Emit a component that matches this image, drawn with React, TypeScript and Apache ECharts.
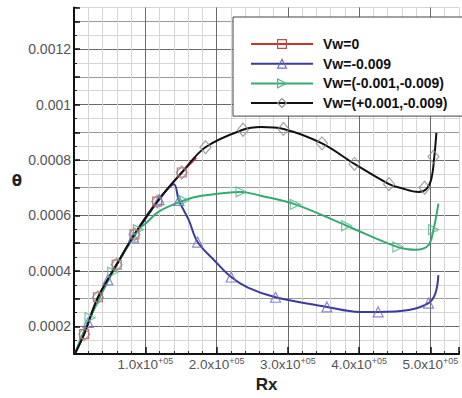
import React, { useEffect, useRef } from "react";
import * as echarts from "echarts";

const FONT = "'Liberation Sans', Arial, sans-serif";

const seriesNames = ["Vw=0", "Vw=-0.009", "Vw=(-0.001,-0.009)", "Vw=(+0.001,-0.009)"];
const lineColors = ["#c8352f", "#3b3b9c", "#34aa72", "#111111"];
const markerColors = ["#b5524e", "#6a6ac8", "#4fb888", "#8c8c8c"];
const markerShapes = ["rect", "triangle", "triangle", "diamond"];
const markerRotate = [0, 0, -90, 0];
const markerSizes: (number | number[])[] = [9, 10, 10, [11, 13]];

// curves: [Rx, theta]
const curveVw0 = [
  [2000, 0.000105], [14200, 0.000172], [33600, 0.000305], [59900, 0.000423],
  [84800, 0.000532], [116600, 0.00065], [151200, 0.000755], [171500, 0.000808],
];
const curveVwNeg = [
  [2000, 0.000105], [19700, 0.000214], [47400, 0.000368], [83400, 0.000522],
  [119400, 0.000657], [140100, 0.000713], [147100, 0.000654], [160900, 0.000584],
  [173400, 0.000504], [198300, 0.000434], [220400, 0.000378], [243900, 0.00034],
  [282700, 0.000305], [354700, 0.00027], [400300, 0.000252], [426600, 0.000252],
  [469600, 0.000259], [497200, 0.000284], [506900, 0.000319], [511100, 0.000385],
];
const curveVwMinus = [
  [2000, 0.000105], [22500, 0.000231], [54300, 0.000395], [90300, 0.000549],
  [101400, 0.000573], [119400, 0.000615], [154000, 0.000654], [178900, 0.000671],
  [234300, 0.000685], [261900, 0.000671], [310400, 0.00064], [382400, 0.000563],
  [454300, 0.000486], [479200, 0.000476], [497200, 0.000493], [504200, 0.000549],
  [511100, 0.000643],
];
const curveVwPlus = [
  [2000, 0.000105], [14200, 0.000172], [33600, 0.000305], [59900, 0.000423],
  [84800, 0.000532], [116600, 0.00065], [151200, 0.000755], [184400, 0.000846],
  [237000, 0.000909], [261900, 0.000919], [293800, 0.000912], [347800, 0.00086],
  [393400, 0.000786], [441900, 0.000713], [458500, 0.000699], [483400, 0.000685],
  [494500, 0.000696], [501400, 0.000734], [505600, 0.000818], [508300, 0.000898],
];

// markers
const markVw0 = [
  [14200, 0.000172], [33600, 0.000305], [59900, 0.000423], [84800, 0.000532],
  [116600, 0.00065], [151200, 0.000755],
];
const markVwNeg = [
  [19700, 0.000214], [47400, 0.000368], [83400, 0.000522], [119400, 0.000657],
  [147100, 0.000654], [173400, 0.000504], [220400, 0.000378], [282700, 0.000305],
  [354700, 0.00027], [426600, 0.000252], [497200, 0.000284],
];
const markVwMinus = [
  [22500, 0.000231], [54300, 0.000395], [90300, 0.000549], [154000, 0.000654],
  [234300, 0.000685], [310400, 0.00064], [382400, 0.000563], [454300, 0.000486],
  [504200, 0.000549],
];
const markVwPlus = [
  [14200, 0.000172], [33600, 0.000305], [59900, 0.000423], [84800, 0.000532],
  [116600, 0.00065], [151200, 0.000755], [184400, 0.000846], [237000, 0.000909],
  [293800, 0.000912], [347800, 0.00086], [393400, 0.000786], [441900, 0.000713],
  [491700, 0.0007], [504200, 0.000812],
];

const curves = [curveVw0, curveVwNeg, curveVwMinus, curveVwPlus];
const marks = [markVw0, markVwNeg, markVwMinus, markVwPlus];

const X_MIN = 0, X_MAX = 540000, X_MINOR = 20000, X_MAJOR = 100000;
const Y_MIN = 0.0001, Y_MAX = 0.00135, Y_MINOR = 0.00005, Y_MAJOR = 0.0001, Y_LABEL_STEP = 0.0002;

function isMult(v: number, step: number) {
  const k = v / step;
  return Math.abs(k - Math.round(k)) < 1e-6;
}

export default function App() {
  const ref = useRef<HTMLDivElement>(null);
  useEffect(() => {
    document.body.style.margin = "0";
    const chart = echarts.init(ref.current!, null, { renderer: "svg" });
    const lineSeries = curves.map((c, i) => ({
      type: "line",
      name: seriesNames[i],
      data: c,
      showSymbol: false,
      symbol: markerShapes[i],
      symbolRotate: markerRotate[i],
      smooth: 0.35,
      lineStyle: { color: lineColors[i], width: 2 },
      itemStyle: { color: "rgba(0,0,0,0)", borderColor: markerColors[i] },
      silent: true,
      z: 2,
    }));
    const markSeries = marks.map((m, i) => ({
      type: "scatter",
      name: seriesNames[i],
      data: m,
      symbol: markerShapes[i],
      symbolRotate: markerRotate[i],
      symbolSize: markerSizes[i],
      itemStyle: { color: "rgba(0,0,0,0)", borderColor: markerColors[i], borderWidth: 1.2 },
      silent: true,
      z: 3,
    }));
    chart.setOption({
      animation: false,
      backgroundColor: "#fff",
      grid: { left: 74, right: -2, top: 7.5, bottom: 32.35, containLabel: false },
      legend: {
        orient: "vertical",
        left: 233,
        top: 17,
        padding: [20, 22, 6, 17],
        itemWidth: 62,
        itemHeight: 11,
        itemGap: 5.7,
        backgroundColor: "#fff",
        borderColor: "#444",
        borderWidth: 1,
        borderRadius: 0,
        textStyle: { fontFamily: FONT, fontSize: 14, fontWeight: "bold", color: "#111", padding: [0, 0, 0, 5] },
        data: seriesNames.map((n, i) => ({
          name: n,
          itemStyle: { color: "rgba(0,0,0,0)", borderColor: markerColors[i], borderWidth: 1.2 },
          lineStyle: { color: lineColors[i], width: 2 },
          symbolRotate: markerRotate[i],
        })),
      },
      xAxis: [
        {
          type: "value", min: X_MIN, max: X_MAX, interval: X_MINOR, position: "bottom",
          axisLine: { show: true, onZero: false, lineStyle: { color: "#111", width: 2 } },
          axisTick: { show: true, inside: true, length: 3, lineStyle: { color: "#222" } },
          axisLabel: { show: false },
          splitLine: { show: true, lineStyle: { color: ["#6a6a6a", "#d6d6d6", "#d6d6d6", "#d6d6d6", "#d6d6d6"], width: 1 } },
        },
        {
          type: "value", min: X_MIN, max: X_MAX, interval: X_MAJOR, position: "bottom",
          axisLine: { show: false, onZero: false },
          axisTick: { show: true, inside: true, length: 7, lineStyle: { color: "#111", width: 1.5 } },
          splitLine: { show: false },
          axisLabel: {
            margin: 2,
            formatter: (v: number) => {
              if (!isMult(v, X_MAJOR) || Math.round(v / X_MAJOR) === 0) return "";
              return `{a|${Math.round(v / X_MAJOR)}.0x10}{b|+05}`;
            },
            rich: {
              a: { fontFamily: FONT, fontSize: 13.5, color: "#555", lineHeight: 16 },
              b: { fontFamily: FONT, fontSize: 9, color: "#555", verticalAlign: "top", lineHeight: 16, padding: [0, 0, 6, 0] },
            },
          },
          name: "Rx", nameLocation: "middle", nameGap: 13,
          nameTextStyle: { fontFamily: FONT, fontSize: 17, fontWeight: "bold", color: "#222" },
        },
      ],
      yAxis: [
        {
          type: "value", min: Y_MIN, max: Y_MAX, interval: Y_MINOR, position: "left",
          axisLine: { show: true, onZero: false, lineStyle: { color: "#111", width: 2 } },
          axisTick: { show: true, inside: true, length: 3, lineStyle: { color: "#222" } },
          axisLabel: { show: false },
          splitLine: { show: true, lineStyle: { color: ["#9a9a9a", "#d6d6d6", "#6a6a6a", "#d6d6d6"], width: 1 } },
        },
        {
          type: "value", min: Y_MIN, max: Y_MAX, interval: Y_MAJOR, position: "left",
          axisLine: { show: false, onZero: false },
          axisTick: { show: true, inside: true, length: 6, lineStyle: { color: "#111", width: 1.5 } },
          splitLine: { show: false },
          axisLabel: {
            margin: 3,
            fontFamily: FONT, fontSize: 14, color: "#555",
            formatter: (v: number) => (isMult(v, Y_LABEL_STEP) ? String(+v.toFixed(4)) : ""),
          },
          name: "θ", nameLocation: "middle", nameGap: 52, nameRotate: 0,
          nameTextStyle: { fontFamily: "'DejaVu Sans', sans-serif", fontSize: 15, fontWeight: "bold", color: "#222" },
        },
      ],
      series: [...lineSeries, ...markSeries],
    });
    return () => chart.dispose();
  }, []);
  return <div ref={ref} style={{ width: 462, height: 398 }} />;
}
